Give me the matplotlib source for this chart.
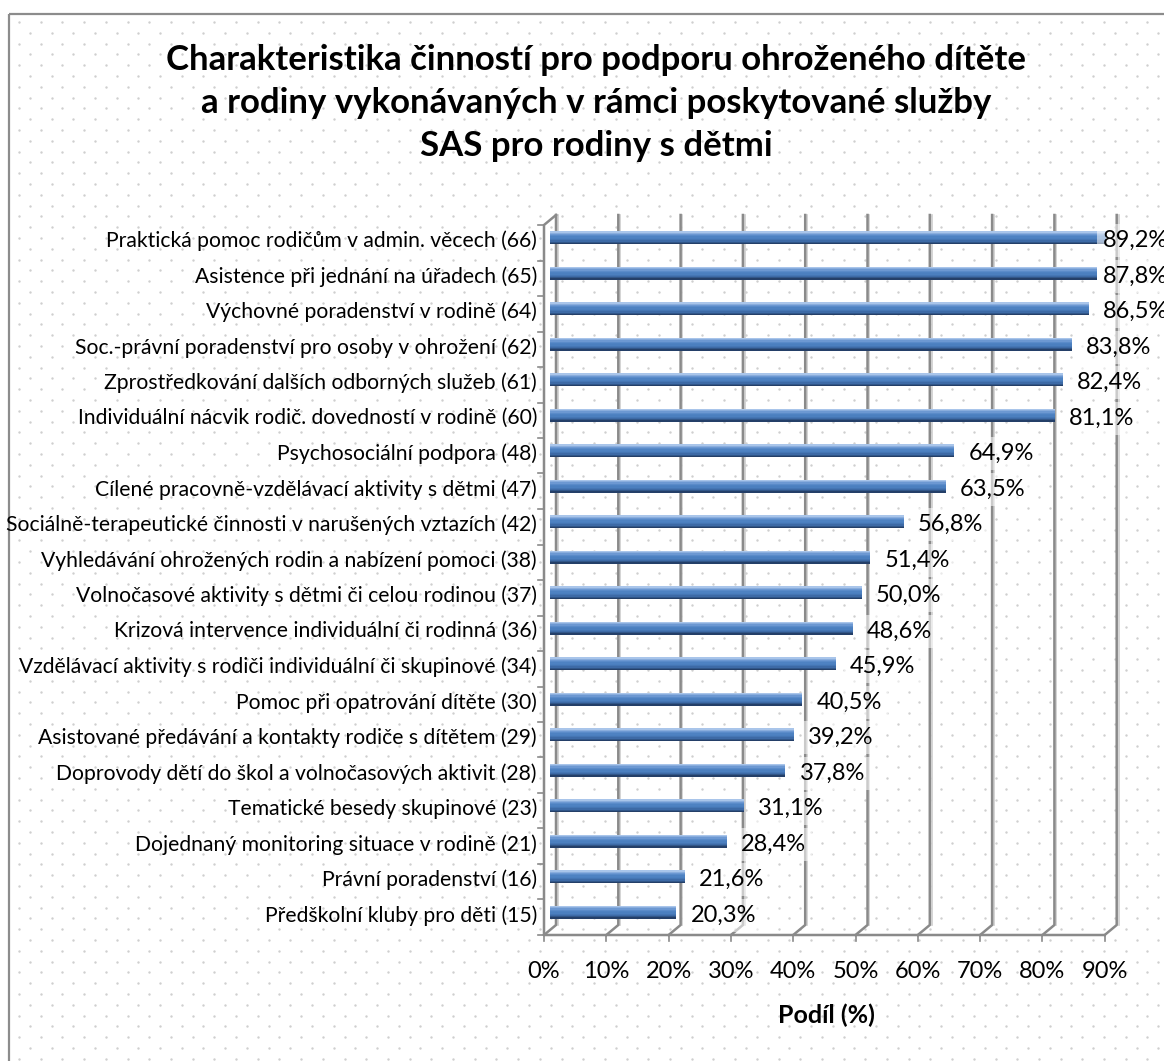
import matplotlib.pyplot as plt
import numpy as np
from matplotlib.colors import LinearSegmentedColormap
from matplotlib.patches import Rectangle

labels = [
    "Praktická pomoc rodičům v admin. věcech (66)",
    "Asistence při jednání na úřadech (65)",
    "Výchovné poradenství v rodině (64)",
    "Soc.-právní poradenství pro osoby v ohrožení (62)",
    "Zprostředkování dalších odborných služeb (61)",
    "Individuální nácvik rodič. dovedností v rodině (60)",
    "Psychosociální podpora (48)",
    "Cílené pracovně-vzdělávací aktivity s dětmi (47)",
    "Sociálně-terapeutické činnosti v narušených vztazích (42)",
    "Vyhledávání ohrožených rodin a nabízení pomoci (38)",
    "Volnočasové aktivity s dětmi či celou rodinou (37)",
    "Krizová intervence individuální či rodinná (36)",
    "Vzdělávací aktivity s rodiči individuální či skupinové (34)",
    "Pomoc při opatrování dítěte (30)",
    "Asistované předávání a kontakty rodiče s dítětem (29)",
    "Doprovody dětí do škol a volnočasových aktivit (28)",
    "Tematické besedy skupinové (23)",
    "Dojednaný monitoring situace v rodině (21)",
    "Právní poradenství (16)",
    "Předškolní kluby pro děti (15)",
]
shares = [89.2, 87.8, 86.5, 83.8, 82.4, 81.1, 64.9, 63.5, 56.8, 51.4,
          50.0, 48.6, 45.9, 40.5, 39.2, 37.8, 31.1, 28.4, 21.6, 20.3]
ticks = list(range(0, 100, 10))
title_lines = [
    "Charakteristika činností pro podporu ohroženého dítěte",
    "a rodiny vykonávaných v rámci poskytované služby",
    "SAS pro rodiny s dětmi",
]

W, H = 1164, 1061
FONT = "Lato"
GRID = "#8a8a8a"

fig = plt.figure(figsize=(W / 100, H / 100), dpi=100)

# dotted background and frame
bg = fig.add_axes([0, 0, 1, 1], zorder=0)
bg.set_xlim(0, W)
bg.set_ylim(H, 0)
bg.axis("off")
for i, yy in enumerate(np.arange(22, H, 10.8)):
    xs = np.arange(19 + (i % 2) * 10.8, W, 21.7)
    bg.scatter(xs, np.full_like(xs, yy), s=3, c="#cfcfcf", lw=0)
bg.add_patch(Rectangle((8.5, 13.5), W, H, fill=False, ec="#8c8c8c", lw=1.6))

# plot area (mid-depth plane of the 3D chart)
x0, x1, y0, y1 = 550, 550 + 9 * 62.3, 220, 930
ax = fig.add_axes([x0 / W, 1 - y1 / H, (x1 - x0) / W, (y1 - y0) / H], zorder=1)
ax.set_facecolor("none")
ax.set_xlim(0, 90)
n = len(labels)
ax.set_ylim(n - 0.5, -0.5)
ax.axis("off")

ux = (x1 - x0) / 90
uy = (y1 - y0) / n
dx, dy = 6 / ux, 5 / uy

# back wall gridlines with floor slant
for v in ticks:
    ax.plot([v + dx + 1.8 / ux] * 2, [-0.5 - dy, n - 0.5 - dy],
            color="#cdcdcd", lw=1.2, clip_on=False, zorder=1)
    ax.plot([v + dx, v + dx, v - dx], [-0.5 - dy, n - 0.5 - dy, n - 0.5 + dy],
            color=GRID, lw=1.8, clip_on=False, zorder=1)
    ax.plot([v - dx, v - dx], [n - 0.5 + dy, n - 0.5 + dy + 6 / uy],
            color=GRID, lw=1.2, clip_on=False, zorder=1)
    ax.text(v - dx, n - 0.5 + dy + 37 / uy, f"{v}%", ha="center", va="center",
            fontsize=17, family=FONT, clip_on=False)

# front left axis and floor
ax.plot([dx, -dx, -dx, 90 - dx], [-0.5 - dy, -0.5 + dy, n - 0.5 + dy, n - 0.5 + dy],
        color=GRID, lw=1.8, clip_on=False, zorder=1)
for b in np.arange(-0.5, n, 1.0):
    ax.plot([-dx - 6 / ux, -dx], [b + dy, b + dy], color=GRID, lw=1.2,
            clip_on=False, zorder=1)

# bars with vertical gradient
cmap = LinearSegmentedColormap.from_list(
    "bar", ["#a9c5ea", "#6f9ad3", "#4f84c4", "#4a7dbd", "#3c68a3", "#243f68"])
h = 13 / uy
strips = 10
label_max = (1103 - x0) / ux
for k, v in enumerate(shares):
    for s in range(strips):
        top = k - h / 2 + s * h / strips
        ax.barh(top, v, height=h / strips, align="edge",
                color=cmap(s / (strips - 1)), lw=0, zorder=3)
    ax.text(min(v + 14 / ux, label_max), k + 3 / uy, f"{v:.1f}%".replace(".", ","),
            ha="left", va="center", fontsize=17, family=FONT, zorder=4,
            clip_on=False,
            bbox=dict(boxstyle="square,pad=0.25", fc="white", ec="none", alpha=0.55))
    ax.text(-13 / ux, k + 3 / uy, labels[k], ha="right", va="center",
            fontsize=15.2, family=FONT, clip_on=False)

# titles
for i, line in enumerate(title_lines):
    fig.text(596 / W, 1 - (60 + 43 * i) / H, line, ha="center", va="center",
             fontsize=25, fontweight="bold", family=FONT)
fig.text(826 / W, 1 - 1015 / H, "Podíl (%)", ha="center", va="center",
         fontsize=18, fontweight="bold", family=FONT)

fig.savefig("out.png", dpi=100)
